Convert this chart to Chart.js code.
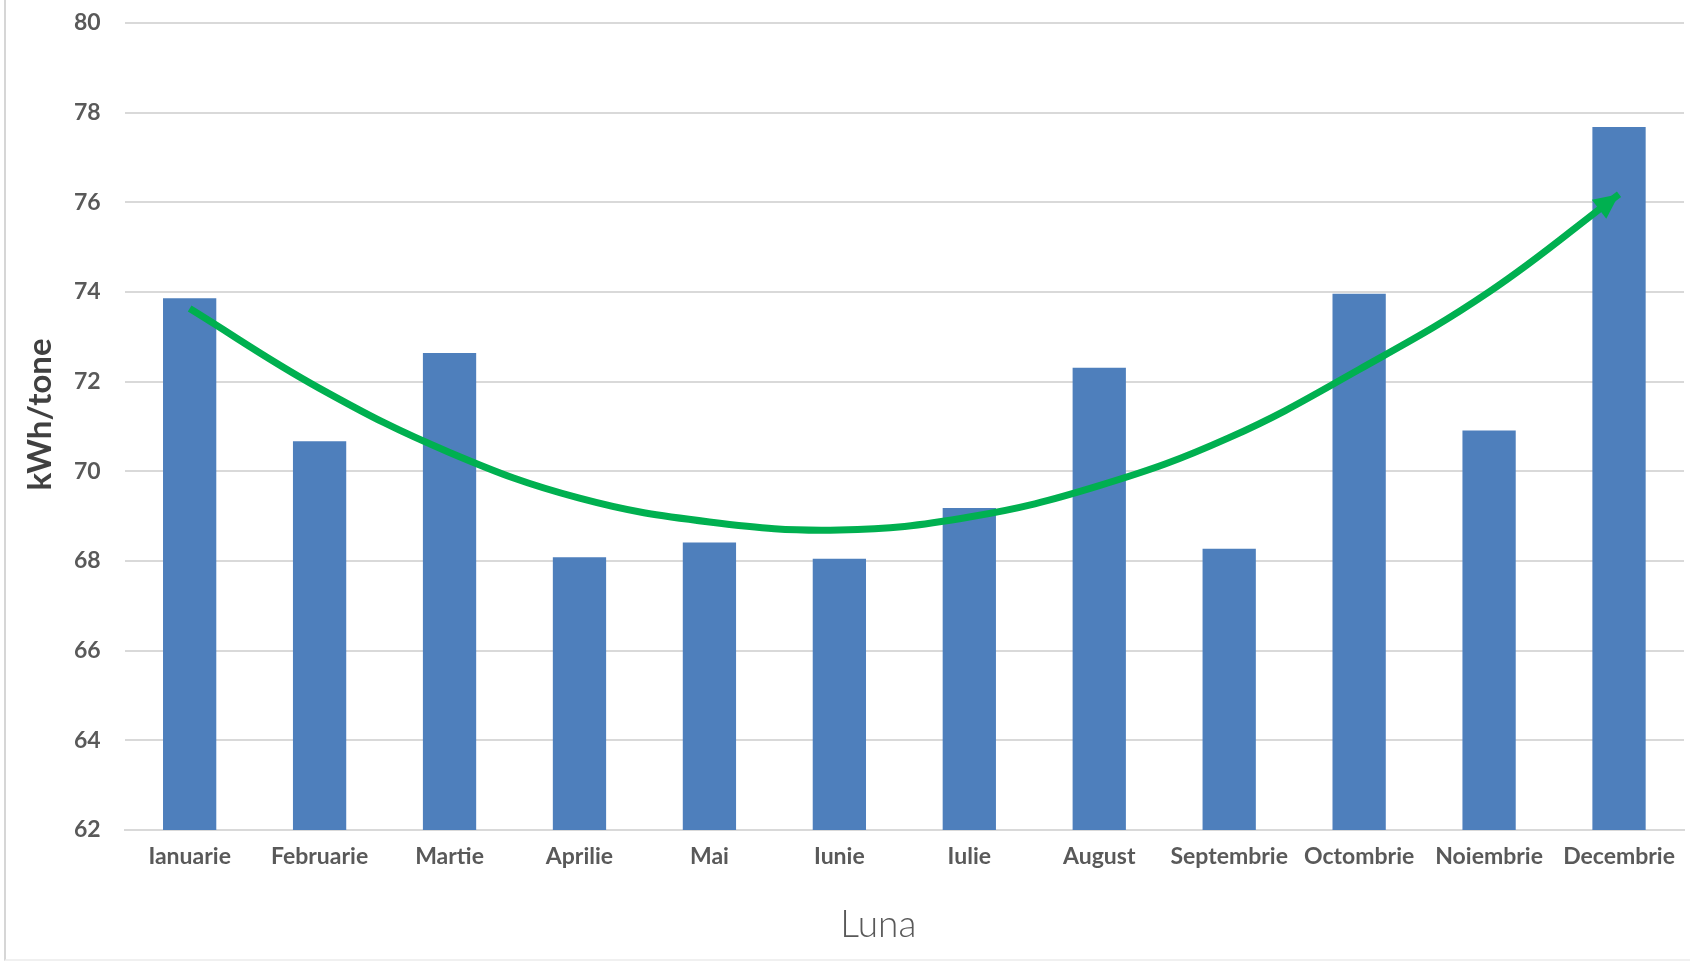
<!DOCTYPE html>
<html>
<head>
<meta charset="utf-8">
<script src="https://cdn.jsdelivr.net/npm/chart.js@4/dist/chart.umd.min.js"></script>
<style>
  html, body { margin: 0; padding: 0; background: #ffffff; }
  #wrap { position: relative; width: 1690px; height: 965px; }
  #frame {
    position: absolute; left: 4px; top: -2px; width: 1700px; height: 961px;
    border-left: 2px solid #d6d6d6; border-bottom: 2px solid #f0f0f0;
    pointer-events: none;
  }
  canvas { display: block; }
</style>
</head>
<body>
<div id="wrap">
  <canvas id="chart" width="1690" height="965"></canvas>
  <div id="frame"></div>
</div>
<script>
// Monthly specific consumption (kWh/tone)
const months = ['Ianuarie', 'Februarie', 'Martie', 'Aprilie', 'Mai', 'Iunie',
                'Iulie', 'August', 'Septembrie', 'Octombrie', 'Noiembrie', 'Decembrie'];
const consumption = [73.86, 70.67, 72.64, 68.08, 68.41, 68.05,
                     69.18, 72.31, 68.27, 73.96, 70.91, 77.68];
// Hand-drawn trend curve, one value per month
const trend = [73.63, 71.85, 70.42, 69.40, 68.87, 68.69,
               68.98, 69.68, 70.75, 72.27, 74.00, 76.18];
const yTicks = [62, 64, 66, 68, 70, 72, 74, 76, 78, 80];
const xTitle = 'Luna';
const yTitle = 'kWh/tone';

const axisFont = "'Lato', 'Open Sans', sans-serif";

// Arrowhead at the end of the trend curve, oriented along the last segment
const arrowHead = {
  id: 'arrowHead',
  afterDatasetsDraw(chart) {
    const pts = chart.getDatasetMeta(1).data;
    if (!pts.length) return;
    const end = pts[pts.length - 1];
    const cx = end.cp1x !== undefined ? end.cp1x : pts[pts.length - 2].x;
    const cy = end.cp1y !== undefined ? end.cp1y : pts[pts.length - 2].y;
    const ang = Math.atan2(end.y - cy, end.x - cx);
    const len = 25, half = 12;
    const ctx = chart.ctx;
    ctx.save();
    ctx.translate(end.x, end.y);
    ctx.rotate(ang);
    ctx.beginPath();
    ctx.moveTo(0, 0);
    ctx.lineTo(-len, -half);
    ctx.lineTo(-len, half);
    ctx.closePath();
    ctx.fillStyle = '#00b050';
    ctx.fill();
    ctx.restore();
  }
};

// Axis titles, placed relative to the plot area
const axisTitles = {
  id: 'axisTitles',
  afterDraw(chart) {
    const a = chart.chartArea;
    const ctx = chart.ctx;
    ctx.save();
    ctx.textAlign = 'center';
    ctx.textBaseline = 'middle';
    ctx.fillStyle = '#595959';
    ctx.font = "300 37px " + axisFont;
    ctx.fillText(xTitle, (a.left + a.right) / 2 - 26, a.bottom + 95);
    ctx.translate(a.left - 84, (a.top + a.bottom) / 2 - 12);
    ctx.rotate(-Math.PI / 2);
    ctx.fillStyle = '#404040';
    ctx.font = "bold 33px " + axisFont;
    ctx.fillText(yTitle, 0, 0);
    ctx.restore();
  }
};

new Chart(document.getElementById('chart'), {
  data: {
    labels: months,
    datasets: [
      {
        type: 'bar',
        data: consumption,
        backgroundColor: '#4e7fbc',
        barPercentage: 0.41,
        categoryPercentage: 1.0,
        order: 1
      },
      {
        type: 'line',
        data: trend,
        borderColor: '#00b050',
        borderWidth: 7,
        borderCapStyle: 'butt',
        tension: 0.4,
        pointRadius: 0,
        fill: false,
        order: 0
      }
    ]
  },
  options: {
    responsive: false,
    animation: false,
    layout: { padding: { top: 23, right: 6, bottom: 81.5, left: 74 } },
    plugins: { legend: { display: false }, tooltip: { enabled: false } },
    scales: {
      x: {
        grid: { display: false, drawTicks: false },
        border: { display: true, color: '#d9d9d9', width: 2 },
        ticks: {
          padding: 13,
          color: '#595959',
          font: { family: axisFont, size: 23, weight: 'bold' },
          maxRotation: 0, autoSkip: false
        }
      },
      y: {
        min: 62, max: 80,
        afterBuildTicks(scale) { scale.ticks = yTicks.map(v => ({ value: v })); },
        grid: { color: '#d9d9d9', lineWidth: 2, drawTicks: true, tickLength: 24, tickColor: 'rgba(0,0,0,0)' },
        border: { display: false },
        ticks: {
          padding: 0,
          color: '#595959',
          font: { family: axisFont, size: 23, weight: 'bold' }
        }
      }
    }
  },
  plugins: [arrowHead, axisTitles]
});
</script>
</body>
</html>
